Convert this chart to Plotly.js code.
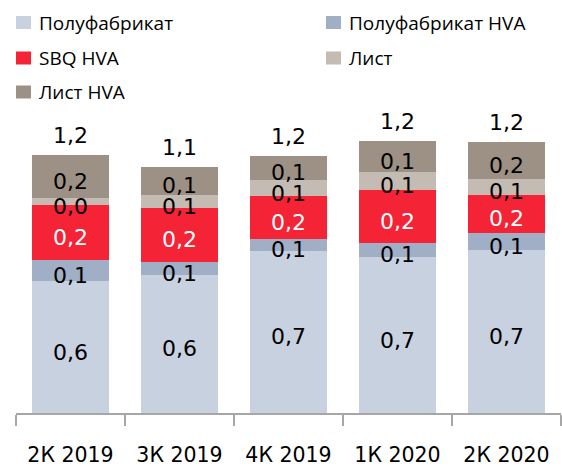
<!DOCTYPE html>
<html>
<head>
<meta charset="utf-8">
<script src="https://cdn.plot.ly/plotly-3.0.1.min.js"></script>
<style>html,body{margin:0;padding:0;background:#fff;}#chart{width:562px;height:468px;}</style>
</head>
<body>
<div id="chart"></div>
<script>
const categories = ['2К 2019', '3К 2019', '4К 2019', '1К 2020', '2К 2020'];
const seriesNames = ['Полуфабрикат', 'Полуфабрикат HVA', 'SBQ HVA', 'Лист', 'Лист HVA'];
const polufabrikat    = [0.600, 0.629, 0.738, 0.708, 0.742];
const polufabrikatHVA = [0.096, 0.058, 0.052, 0.066, 0.076];
const sbqHVA          = [0.249, 0.245, 0.197, 0.240, 0.174];
const list            = [0.034, 0.059, 0.071, 0.083, 0.071];
const listHVA         = [0.194, 0.129, 0.112, 0.138, 0.171];

const seriesValues = [polufabrikat, polufabrikatHVA, sbqHVA, list, listHVA];
const colors = ['#c8d1e0', '#a0aec6', '#f42336', '#c4bbb2', '#9d9185'];
const textColors = ['#000', '#000', '#fff', '#000', '#000'];
const FONT = '"DejaVu Sans", sans-serif';
const LEGEND_FONT = '"Open Sans", "Noto Sans", sans-serif';

// plot-area geometry (pixels) used to place the custom two-column legend
const PL = 16, PW = 545, PB = 413, PH = 308;
const px2x = p => (p - PL) / PW;
const px2y = p => (PB - p) / PH;
// legend slots: [column left px, row center px]
const legendSlots = [[16, 22.5], [326, 22.5], [16, 58], [326, 58], [16, 92]];

const fmt = v => v.toFixed(1).replace('.', ',');

const traces = seriesValues.map((vals, i) => ({
  type: 'bar',
  name: seriesNames[i],
  x: categories,
  y: vals,
  marker: {color: colors[i], line: {width: 0}},
  hoverinfo: 'skip',
  showlegend: false
}));

const annotations = [];
// segment value labels, drawn above all bars so overlapping labels stay visible
const base = categories.map(() => 0);
seriesValues.forEach((vals, i) => {
  vals.forEach((v, j) => {
    annotations.push({
      x: categories[j], y: base[j] + v / 2, xref: 'x', yref: 'y',
      text: fmt(v), showarrow: false, xanchor: 'center', yanchor: 'middle', yshift: -5,
      font: {family: FONT, size: 22, color: textColors[i]}
    });
    base[j] += v;
  });
});

// totals above bars
categories.forEach((c, j) => {
  annotations.push({
    x: c, y: base[j], xref: 'x', yref: 'y',
    text: fmt(base[j]),
    showarrow: false, yanchor: 'bottom', yshift: 5,
    font: {family: FONT, size: 22, color: '#000'}
  });
});

const shapes = [];
seriesNames.forEach((name, i) => {
  const [lx, cy] = legendSlots[i];
  shapes.push({
    type: 'rect', xref: 'paper', yref: 'paper',
    x0: px2x(lx), x1: px2x(lx + 15), y0: px2y(cy + 6.5), y1: px2y(cy - 6.5),
    fillcolor: colors[i], line: {width: 0}
  });
  annotations.push({
    xref: 'paper', yref: 'paper', x: px2x(lx + 21), y: px2y(cy),
    xanchor: 'left', yanchor: 'middle', showarrow: false,
    text: name, font: {family: LEGEND_FONT, size: 19, color: '#000'}
  });
});

const layout = {
  width: 562, height: 468,
  margin: {l: PL, r: 562 - PL - PW, t: PB - PH, b: 468 - PB},
  paper_bgcolor: '#fff', plot_bgcolor: '#fff',
  barmode: 'stack',
  bargap: 0.29,
  showlegend: false,
  xaxis: {
    showline: true, linecolor: '#a6a6a6', linewidth: 1.5,
    ticks: 'outside', tickson: 'boundaries', ticklen: 11, tickcolor: '#a6a6a6', tickwidth: 1.5,
    showgrid: false, zeroline: false,
    tickfont: {family: FONT, size: 20.5, color: '#000'},
    ticklabelstandoff: 23
  },
  yaxis: {
    range: [0, 1.4], visible: false, showgrid: false, zeroline: false, fixedrange: true
  },
  shapes: shapes,
  annotations: annotations
};

Plotly.newPlot('chart', traces, layout, {displayModeBar: false, staticPlot: true});
</script>
</body>
</html>
